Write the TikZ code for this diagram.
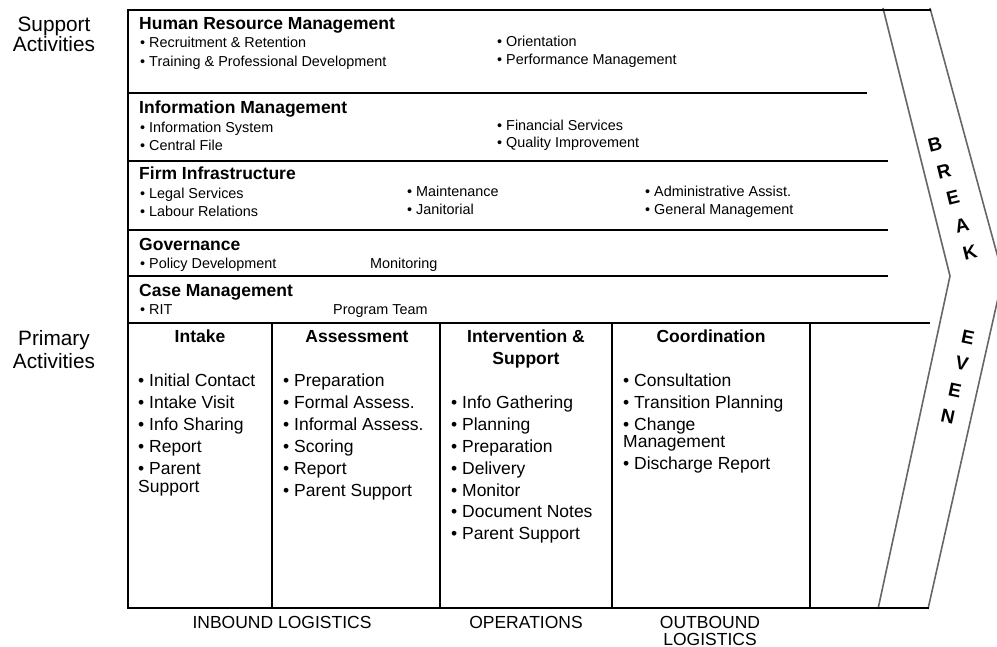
\documentclass[tikz,border=0pt]{standalone}
\usepackage{fontspec}
\setmainfont{Liberation Sans}
\begin{document}
\begin{tikzpicture}[x=1pt,y=-1pt,
  thickrule/.style={line width=2.8pt,line cap=rect},
  thinrule/.style={line width=1.4pt},
  colrule/.style={line width=1.6pt},
  band/.style={draw=black!60,line width=1.6pt,line join=miter},
  txt/.style={inner sep=0pt,anchor=base west},
  sectitle/.style={txt,font=\fontsize{17.5}{20}\selectfont\bfseries},
  small/.style={txt,font=\fontsize{14.4}{17}\selectfont},
  colhead/.style={inner sep=0pt,anchor=base,font=\fontsize{17.5}{20}\selectfont\bfseries},
  pitem/.style={txt,font=\fontsize{17.5}{20}\selectfont},
  foot/.style={inner sep=0pt,anchor=base,font=\fontsize{17.5}{20}\selectfont},
  side/.style={inner sep=0pt,anchor=base,font=\fontsize{20.8}{22}\selectfont},
  letter/.style={inner sep=0pt,anchor=center,font=\fontsize{19}{19}\selectfont\bfseries}]
\useasboundingbox (0,0) rectangle (997,647);
\clip (0,0) rectangle (997,647);

% break-even chevron band
\coordinate (bi1) at (883,8);   \coordinate (bi2) at (950,276);  \coordinate (bi3) at (878,609);
\coordinate (bo1) at (930,8);   \coordinate (bo2) at (1003,276); \coordinate (bo3) at (928,609);
\draw[band] (bi1) -- (bi2) -- (bi3);
\draw[band] (bo1) -- (bo2) -- (bo3);

% frame of the value chain
\coordinate (tl) at (128,10);  \coordinate (tr) at (930,10);
\coordinate (ml) at (128,323); \coordinate (mr) at (929,323);
\coordinate (bl) at (128,608); \coordinate (br) at (928,608);
\draw[thickrule] (tr) -- (tl) -- (bl) -- (br);
\draw[thickrule] (ml) -- (mr);

% support activity separators
\coordinate (r1l) at (128,93);  \coordinate (r1r) at (867,93);
\coordinate (r2l) at (128,161); \coordinate (r2r) at (888,161);
\coordinate (r3l) at (128,230); \coordinate (r3r) at (888,230);
\coordinate (r4l) at (128,276); \coordinate (r4r) at (888,276);
\draw[thinrule] (r1l) -- (r1r);
\draw[thinrule] (r2l) -- (r2r);
\draw[thinrule] (r3l) -- (r3r);
\draw[thinrule] (r4l) -- (r4r);

% primary activity columns
\foreach \cx [count=\i] in {272,440,612,810}{
  \coordinate (ct\i) at (\cx,323);
  \coordinate (cb\i) at (\cx,608);
  \draw[colrule] (ct\i) -- (cb\i);
}

% side labels
\node[side] (supa) at (54,32) {Support};
\node[side] (supb) at (54,52) {Activities};
\node[side] (pria) at (54,346) {Primary};
\node[side] (prib) at (54,369) {Activities};

% Human Resource Management
\node[sectitle] (hrm) at (139,30) {Human Resource Management};
\node[small] (hrm1) at (140,48) {• Recruitment \& Retention};
\node[small] (hrm2) at (140,67) {• Training \& Professional Development};
\node[small] (hrm3) at (497,47) {• Orientation};
\node[small] (hrm4) at (497,65) {• Performance Management};

% Information Management
\node[sectitle] (im) at (139,114) {Information Management};
\node[small] (im1) at (140,133) {• Information System};
\node[small] (im2) at (140,151) {• Central File};
\node[small] (im3) at (497,131) {• Financial Services};
\node[small] (im4) at (497,148) {• Quality Improvement};

% Firm Infrastructure
\node[sectitle] (fi) at (139,180) {Firm Infrastructure};
\node[small] (fi1) at (140,199) {• Legal Services};
\node[small] (fi2) at (140,217) {• Labour Relations};
\node[small] (fi3) at (407,197) {• Maintenance};
\node[small] (fi4) at (407,215) {• Janitorial};
\node[small] (fi5) at (645,197) {• Administrative Assist.};
\node[small] (fi6) at (645,215) {• General Management};

% Governance
\node[sectitle] (gov) at (139,251) {Governance};
\node[small] (gov1) at (140,269) {• Policy Development};
\node[small] (gov2) at (370,269) {Monitoring};

% Case Management
\node[sectitle] (cm) at (139,297) {Case Management};
\node[small] (cm1) at (140,315) {• RIT};
\node[small] (cm2) at (333,315) {Program Team};

% primary activity headings
\node[colhead] (h1) at (200,343) {Intake};
\node[colhead] (h2) at (357,343) {Assessment};
\node[colhead] (h3a) at (526,343) {Intervention \&};
\node[colhead] (h3b) at (526,365) {Support};
\node[colhead] (h4) at (711,343) {Coordination};

% Intake
\node[pitem] (in1) at (138,387) {• Initial Contact};
\node[pitem] (in2) at (138,408) {• Intake Visit};
\node[pitem] (in3) at (138,430) {• Info Sharing};
\node[pitem] (in4) at (138,452) {• Report};
\node[pitem] (in5) at (138,474) {• Parent};
\node[pitem] (in6) at (138,492) {Support};

% Assessment
\node[pitem] (as1) at (283,387) {• Preparation};
\node[pitem] (as2) at (283,408) {• Formal Assess.};
\node[pitem] (as3) at (283,430) {• Informal Assess.};
\node[pitem] (as4) at (283,452) {• Scoring};
\node[pitem] (as5) at (283,474) {• Report};
\node[pitem] (as6) at (283,496) {• Parent Support};

% Intervention & Support
\node[pitem] (iv1) at (451,408) {• Info Gathering};
\node[pitem] (iv2) at (451,430) {• Planning};
\node[pitem] (iv3) at (451,452) {• Preparation};
\node[pitem] (iv4) at (451,474) {• Delivery};
\node[pitem] (iv5) at (451,496) {• Monitor};
\node[pitem] (iv6) at (451,517) {• Document Notes};
\node[pitem] (iv7) at (451,539) {• Parent Support};

% Coordination
\node[pitem] (co1) at (623,387) {• Consultation};
\node[pitem] (co2) at (623,408) {• Transition Planning};
\node[pitem] (co3) at (623,430) {• Change};
\node[pitem] (co4) at (623,447) {Management};
\node[pitem] (co5) at (623,469) {• Discharge Report};

% logistics labels
\node[foot] (f1) at (282,628) {INBOUND LOGISTICS};
\node[foot] (f2) at (526,628) {OPERATIONS};
\node[foot] (f3a) at (710,628) {OUTBOUND};
\node[foot] (f3b) at (710,645) {LOGISTICS};

% lettering along the band
\node[letter,rotate=14] (lb) at (935,145) {B};
\node[letter,rotate=14] (lr) at (944,172) {R};
\node[letter,rotate=14] (le) at (953,198) {E};
\node[letter,rotate=14] (la) at (962,225) {A};
\node[letter,rotate=14] (lk) at (970,252) {K};
\node[letter,rotate=-12] (le2) at (968,337) {E};
\node[letter,rotate=-12] (lv) at (962,363) {V};
\node[letter,rotate=-12] (le3) at (955,390) {E};
\node[letter,rotate=-12] (ln) at (948,417) {N};
\end{tikzpicture}
\end{document}
